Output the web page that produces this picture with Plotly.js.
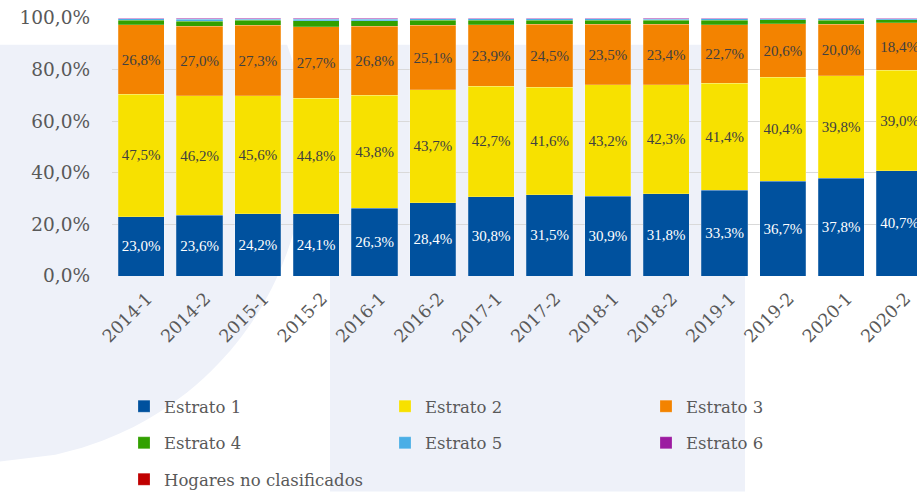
<!DOCTYPE html>
<html>
<head>
<meta charset="utf-8">
<script src="https://cdn.plot.ly/plotly-3.0.1.min.js"></script>
<style>
html,body{margin:0;padding:0;background:#fff;overflow:hidden;}
#chart{width:917px;height:497px;}
</style>
</head>
<body>
<div id="chart"></div>
<script>
const categories = ['2014-1','2014-2','2015-1','2015-2','2016-1','2016-2','2017-1','2017-2','2018-1','2018-2','2019-1','2019-2','2020-1','2020-2'];
const estrato1 = [23.0, 23.6, 24.2, 24.1, 26.3, 28.4, 30.8, 31.5, 30.9, 31.8, 33.3, 36.7, 37.8, 40.7];
const estrato2 = [47.5, 46.2, 45.6, 44.8, 43.8, 43.7, 42.7, 41.6, 43.2, 42.3, 41.4, 40.4, 39.8, 39.0];
const estrato3 = [26.8, 27.0, 27.3, 27.7, 26.8, 25.1, 23.9, 24.5, 23.5, 23.4, 22.7, 20.6, 20.0, 18.4];
const estrato4 = [1.9, 2.0, 2.0, 2.3, 2.1, 2.0, 1.8, 1.6, 1.6, 1.7, 1.8, 1.6, 1.6, 1.3];
const estrato5 = [0.5, 0.8, 0.5, 0.7, 0.6, 0.5, 0.5, 0.5, 0.5, 0.4, 0.5, 0.4, 0.5, 0.3];
const estrato6 = [0.3, 0.4, 0.4, 0.4, 0.4, 0.3, 0.3, 0.3, 0.3, 0.3, 0.3, 0.3, 0.3, 0.2];
const noClasificados = [0.0, 0.0, 0.0, 0.0, 0.0, 0.0, 0.0, 0.0, 0.0, 0.1, 0.0, 0.0, 0.0, 0.1];
const seriesNames = ['Estrato 1','Estrato 2','Estrato 3','Estrato 4','Estrato 5','Estrato 6','Hogares no clasificados'];
const yTickVals = [0, 20, 40, 60, 80, 100];
const yTickText = ['0,0%', '20,0%', '40,0%', '60,0%', '80,0%', '100,0%'];

const seriesValues = [estrato1, estrato2, estrato3, estrato4, estrato5, estrato6, noClasificados];
const colors = ['#00519e', '#f7e100', '#f38300', '#32a000', '#4aaee6', '#9c1ba1', '#c00000'];
const labelColors = ['#ffffff', '#404040', '#404040', null, null, null, null];
const legendIds = ['legend', 'legend', 'legend', 'legend2', 'legend2', 'legend2', 'legend3'];
const FONT = 'DejaVu Serif, Liberation Serif, serif';

const traces = seriesValues.map((vals, i) => {
  const t = {
    type: 'bar',
    name: seriesNames[i],
    x: categories,
    y: vals,
    marker: {color: colors[i], line: {color: 'rgba(255,255,255,0.35)', width: 0.6}},
    legend: legendIds[i],
    hoverinfo: 'skip'
  };
  if (labelColors[i]) {
    t.texttemplate = '%{y:.1f}%';
    t.textposition = 'inside';
    t.insidetextanchor = 'middle';
    t.textangle = 0;
    t.textfont = {family: 'Liberation Serif, serif', size: 15, color: labelColors[i]};
  } else {
    t.textposition = 'none';
  }
  return t;
});

// background watermark (decorative) built in pixel space then converted to paper coords
const L = 112, R = 917, T = 18, B = 279;
const px2x = p => (p - L) / (R - L);
const py2y = p => (B - p) / (B - T);
function blobPath() {
  const cx = -12, cy = 150, r = 317, top = 45;
  const pts = [[0, top]];
  const yEnd = cy + Math.sqrt(r*r - (0 - cx)*(0 - cx));
  for (let k = 0; k <= 60; k++) {
    const y = top + (yEnd - top) * k / 60;
    const x = cx + Math.sqrt(Math.max(0, r*r - (y - cy)*(y - cy)));
    pts.push([x, y]);
  }
  return 'M' + pts.map(p => px2x(p[0]).toFixed(4) + ',' + py2y(p[1]).toFixed(4)).join(' L') + ' Z';
}
const lav = '#eef1f9';
const shapes = [
  {type: 'path', xref: 'paper', yref: 'paper', path: blobPath(), fillcolor: lav, line: {width: 0}, layer: 'below'},
  {type: 'rect', xref: 'paper', yref: 'paper', x0: px2x(330), x1: px2x(745), y0: py2y(45), y1: py2y(497), fillcolor: lav, line: {width: 0}, layer: 'below'}
];

const legendCommon = {
  orientation: 'h', xanchor: 'left', yanchor: 'middle',
  entrywidth: 216, entrywidthmode: 'pixels',
  font: {family: FONT, size: 16.5, color: '#595959'},
  bgcolor: 'rgba(0,0,0,0)', traceorder: 'normal', itemclick: false
};

const layout = {
  width: 917, height: 497,
  margin: {l: L, r: 0, t: T, b: 497 - B, pad: 0},
  paper_bgcolor: '#ffffff',
  plot_bgcolor: 'rgba(0,0,0,0)',
  barmode: 'stack',
  bargap: 0.21,
  separators: ',.',
  showlegend: true,
  shapes: shapes,
  xaxis: {
    type: 'category', range: [-0.5, 13.3],
    tickangle: -45, showgrid: false, zeroline: false, showline: false, ticks: '',
    ticklabelstandoff: 8, ticklabelshift: 6,
    tickfont: {family: FONT, size: 17.5, color: '#595959'}
  },
  yaxis: {
    range: [0, 100], tickvals: yTickVals, ticktext: yTickText,
    showgrid: true, gridcolor: '#d9d9d9', gridwidth: 1, zeroline: false, showline: false,
    ticks: '', ticklabelstandoff: 21,
    tickfont: {family: FONT, size: 18.5, color: '#595959'}
  },
  legend: Object.assign({}, legendCommon, {x: px2x(124), y: py2y(411)}),
  legend2: Object.assign({}, legendCommon, {x: px2x(124), y: py2y(448)}),
  legend3: Object.assign({}, legendCommon, {x: px2x(124), y: py2y(485)}),
  uniformtext: {minsize: 13, mode: 'show'}
};

Plotly.newPlot('chart', traces, layout, {staticPlot: true, displayModeBar: false});
</script>
</body>
</html>
